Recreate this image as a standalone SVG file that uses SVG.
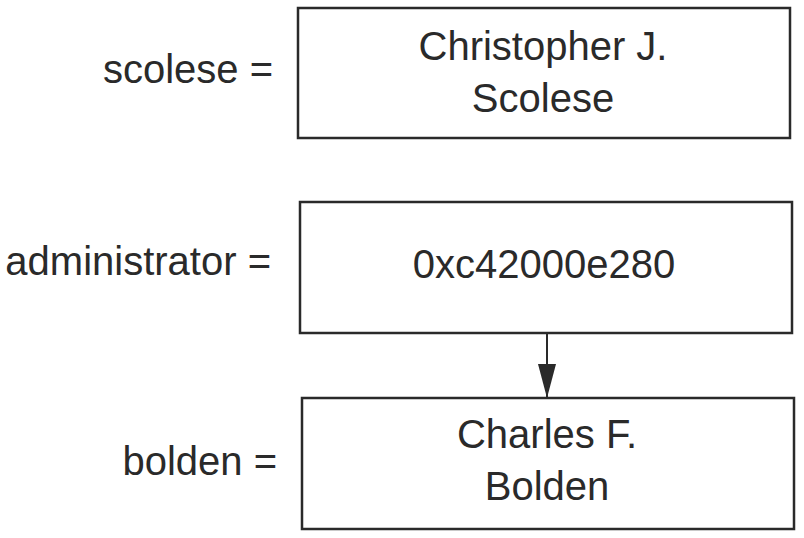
<svg xmlns="http://www.w3.org/2000/svg" width="804" height="538" viewBox="0 0 804 538">
<style>
text { font-family: "Liberation Sans", Arial, sans-serif; font-size: 40px; fill: #2a2a2a; }
.box { fill: #ffffff; stroke: #2a2a2a; stroke-width: 2.5; }
.mid { text-anchor: middle; }
.lbl { text-anchor: end; }
.conn { stroke: #2a2a2a; stroke-width: 2; fill: none; }
</style>
<defs>
<marker id="arrow" markerWidth="34" markerHeight="18" refX="34" refY="9" orient="auto" markerUnits="userSpaceOnUse" viewBox="0 0 34 18">
<path d="M0,0 L34,9 L0,18 Z" fill="#2a2a2a"/>
</marker>
</defs>
<rect width="804" height="538" fill="#ffffff"/>
<g id="scolese">
<text class="lbl" x="273" y="83">scolese =</text>
<rect class="box" x="298" y="8" width="492" height="130"/>
<text class="mid" x="543" y="60">Christopher J.</text>
<text class="mid" x="543" y="112">Scolese</text>
</g>
<g id="administrator">
<text class="lbl" x="271" y="275">administrator =</text>
<rect class="box" x="300" y="202" width="492" height="131"/>
<text class="mid" x="544" y="278">0xc42000e280</text>
</g>
<g id="bolden">
<text class="lbl" x="277" y="475">bolden =</text>
<rect class="box" x="302" y="398" width="492" height="131"/>
<text class="mid" x="547" y="448">Charles F.</text>
<text class="mid" x="547" y="500">Bolden</text>
</g>
<g id="connectors">
<line class="conn" x1="547" y1="333" x2="547" y2="398" marker-end="url(#arrow)"/>
</g>
</svg>
